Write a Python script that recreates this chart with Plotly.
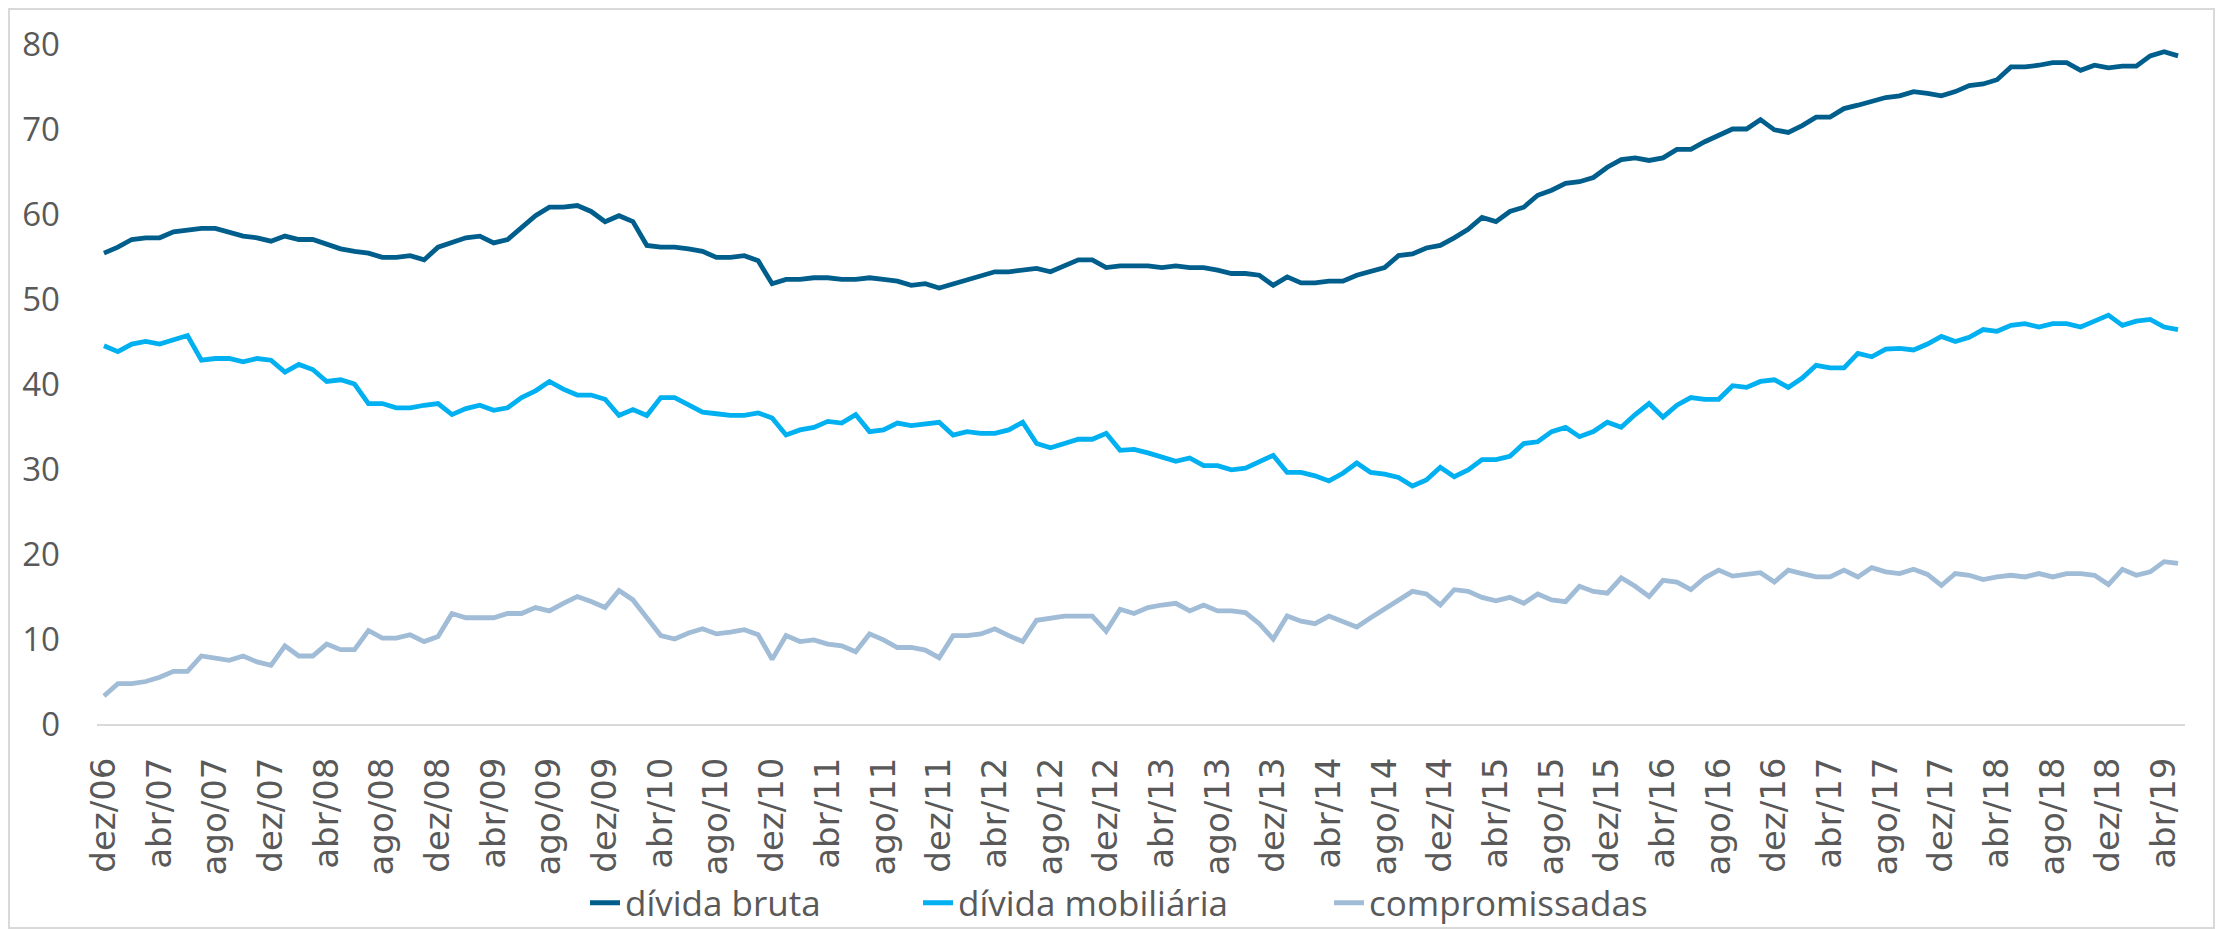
import plotly.graph_objects as go

meses = ["jan", "fev", "mar", "abr", "mai", "jun", "jul", "ago", "set", "out", "nov", "dez"]
# monthly categories dez/06 .. mai/19
categorias = ["dez/06"] + [f"{m}/{a:02d}" for a in range(7, 20) for m in meses][:149]

divida_bruta = [
    55.4, 56.1, 57.0, 57.2, 57.2, 57.9, 58.1, 58.3, 58.3, 57.9, 57.4, 57.2, 56.8, 57.4, 57.0, 57.0, 56.5, 55.9, 55.6, 55.4, 54.9, 54.9, 55.1, 54.6, 56.1, 56.7,
    57.2, 57.4, 56.6, 57.0, 58.4, 59.8, 60.8, 60.8, 61.0, 60.3, 59.1, 59.8, 59.1, 56.3, 56.1, 56.1, 55.9, 55.6, 54.9, 54.9, 55.1, 54.5, 51.8, 52.3, 52.3, 52.5,
    52.5, 52.3, 52.3, 52.5, 52.3, 52.1, 51.6, 51.8, 51.3, 51.8, 52.3, 52.8, 53.2, 53.2, 53.4, 53.6, 53.2, 53.9, 54.6, 54.6, 53.7, 53.9, 53.9, 53.9, 53.7, 53.9,
    53.7, 53.7, 53.4, 53.0, 53.0, 52.8, 51.6, 52.6, 51.9, 51.9, 52.1, 52.1, 52.8, 53.2, 53.7, 55.1, 55.3, 56.0, 56.3, 57.2, 58.2, 59.6, 59.1, 60.3, 60.8, 62.2,
    62.8, 63.6, 63.8, 64.3, 65.5, 66.4, 66.6, 66.3, 66.6, 67.6, 67.6, 68.5, 69.2, 70.0, 70.0, 71.1, 69.9, 69.6, 70.4, 71.4, 71.4, 72.4, 72.8, 73.2, 73.7, 73.9,
    74.4, 74.2, 73.9, 74.4, 75.1, 75.3, 75.8, 77.3, 77.3, 77.5, 77.8, 77.8, 76.9, 77.5, 77.2, 77.4, 77.4, 78.6, 79.1, 78.6,
]

divida_mobiliaria = [
    44.5, 43.8, 44.7, 45.0, 44.7, 45.2, 45.7, 42.8, 43.0, 43.0, 42.6, 43.0, 42.8, 41.4, 42.3, 41.7, 40.3, 40.5, 40.0, 37.7, 37.7, 37.2, 37.2, 37.5, 37.7, 36.4,
    37.1, 37.5, 36.9, 37.2, 38.4, 39.2, 40.3, 39.4, 38.7, 38.7, 38.2, 36.3, 37.0, 36.3, 38.4, 38.4, 37.5, 36.7, 36.5, 36.3, 36.3, 36.6, 36.0, 34.0, 34.6, 34.9,
    35.6, 35.4, 36.4, 34.4, 34.6, 35.4, 35.1, 35.3, 35.5, 34.0, 34.4, 34.2, 34.2, 34.6, 35.5, 33.0, 32.5, 33.0, 33.5, 33.5, 34.2, 32.2, 32.3, 31.9, 31.4, 30.9,
    31.3, 30.4, 30.4, 29.9, 30.1, 30.9, 31.6, 29.6, 29.6, 29.2, 28.6, 29.5, 30.7, 29.6, 29.4, 29.0, 28.0, 28.7, 30.2, 29.1, 29.9, 31.1, 31.1, 31.5, 33.0, 33.2,
    34.4, 34.9, 33.8, 34.4, 35.5, 34.9, 36.4, 37.7, 36.1, 37.5, 38.4, 38.2, 38.2, 39.8, 39.6, 40.3, 40.5, 39.6, 40.7, 42.2, 41.9, 41.9, 43.6, 43.2, 44.1, 44.2,
    44.0, 44.7, 45.6, 45.0, 45.5, 46.4, 46.2, 46.9, 47.1, 46.7, 47.1, 47.1, 46.7, 47.4, 48.1, 46.9, 47.4, 47.6, 46.7, 46.4,
]

compromissadas = [
    3.3, 4.75, 4.75, 5.0, 5.5, 6.2, 6.2, 8.0, 7.75, 7.5, 8.0, 7.3, 6.9, 9.2, 8.0, 8.0, 9.4, 8.75, 8.75, 11.0, 10.1, 10.1, 10.5, 9.7, 10.3, 13.0,
    12.5, 12.5, 12.5, 13.0, 13.0, 13.7, 13.3, 14.2, 15.0, 14.4, 13.7, 15.7, 14.6, 12.5, 10.4, 10.0, 10.7, 11.2, 10.6, 10.8, 11.1, 10.5, 7.6, 10.4, 9.7, 9.9,
    9.4, 9.2, 8.5, 10.6, 9.9, 9.0, 9.0, 8.7, 7.8, 10.4, 10.4, 10.6, 11.2, 10.4, 9.7, 12.2, 12.5, 12.7, 12.7, 12.7, 10.9, 13.5, 13.0, 13.7, 14.0, 14.2,
    13.3, 14.0, 13.3, 13.3, 13.1, 11.8, 10.0, 12.7, 12.1, 11.8, 12.7, 12.1, 11.4, 12.5, 13.5, 14.6, 15.6, 15.3, 14.0, 15.8, 15.6, 14.9, 14.5, 14.9, 14.2, 15.3,
    14.6, 14.4, 16.2, 15.6, 15.4, 17.2, 16.2, 15.0, 16.9, 16.7, 15.8, 17.2, 18.1, 17.4, 17.6, 17.8, 16.7, 18.1, 17.7, 17.3, 17.3, 18.1, 17.3, 18.4, 17.9, 17.7,
    18.2, 17.6, 16.3, 17.7, 17.5, 17.0, 17.3, 17.5, 17.3, 17.7, 17.3, 17.7, 17.7, 17.5, 16.4, 18.2, 17.5, 17.9, 19.1, 18.9,
]

tick_labels = categorias[::4]
y_ticks = [0, 10, 20, 30, 40, 50, 60, 70, 80]

# the page body has an 8px margin, so the figure is 8px smaller than the window
OFF = 8
W, H = 2226 - OFF, 929 - OFF
L, T = 97 - OFF, 44 - OFF
PLOT_R, PLOT_B = 2185 - OFF, 724 - OFF
R, B = W - PLOT_R, H - PLOT_B
pw, ph = W - L - R, H - T - B

# (name, values, colour, legend id, left edge of legend entry in window px)
series = [
    ("dívida bruta", divida_bruta, "#005E8C", "legend", 585),
    ("dívida mobiliária", divida_mobiliaria, "#00B0F0", "legend2", 918),
    ("compromissadas", compromissadas, "#A0BCD6", "legend3", 1329),
]

fig = go.Figure()
legends = {}
for nome, vals, cor, leg, lx in series:
    fig.add_trace(go.Scatter(
        x=categorias, y=vals, name=nome, mode="lines",
        line=dict(color=cor, width=4.8), legend=leg,
    ))
    legends[leg] = dict(
        x=(lx - OFF - L) / pw, xanchor="left",
        y=-((903 - OFF) - PLOT_B) / ph, yanchor="middle",
        font=dict(family="Open Sans", size=35, color="#595959"),
        bgcolor="rgba(0,0,0,0)", itemwidth=30,
    )

fig.update_layout(
    width=W, height=H, autosize=False,
    margin=dict(l=L, r=R, t=T, b=B, autoexpand=False),
    paper_bgcolor="white", plot_bgcolor="white",
    font=dict(family="Open Sans", color="#595959"),
    showlegend=True,
    **legends,
    xaxis=dict(
        type="category", range=[-0.5, len(categorias) - 0.5],
        tickmode="array", tickvals=tick_labels, ticktext=tick_labels,
        tickangle=-90, tickfont=dict(family="DejaVu Sans", size=34, color="#595959"),
        showgrid=False, showline=True, linecolor="#D9D9D9", linewidth=2,
        ticks="", ticklabelstandoff=18, zeroline=False, automargin=False,
    ),
    yaxis=dict(
        range=[0, 80], tickmode="array", tickvals=y_ticks,
        tickfont=dict(family="Open Sans", size=33, color="#595959"),
        showgrid=False, zeroline=False, showline=False, ticks="",
        ticklabelstandoff=36, automargin=False,
    ),
    shapes=[dict(
        type="rect", xref="paper", yref="paper",
        x0=(1 - L) / pw, x1=(2214 - OFF - L) / pw,
        y0=(PLOT_B - (H - 1)) / ph, y1=(PLOT_B - 1) / ph,
        line=dict(color="#D9D9D9", width=2), fillcolor="rgba(0,0,0,0)", layer="below",
    )],
)

fig.write_html("out.html")
